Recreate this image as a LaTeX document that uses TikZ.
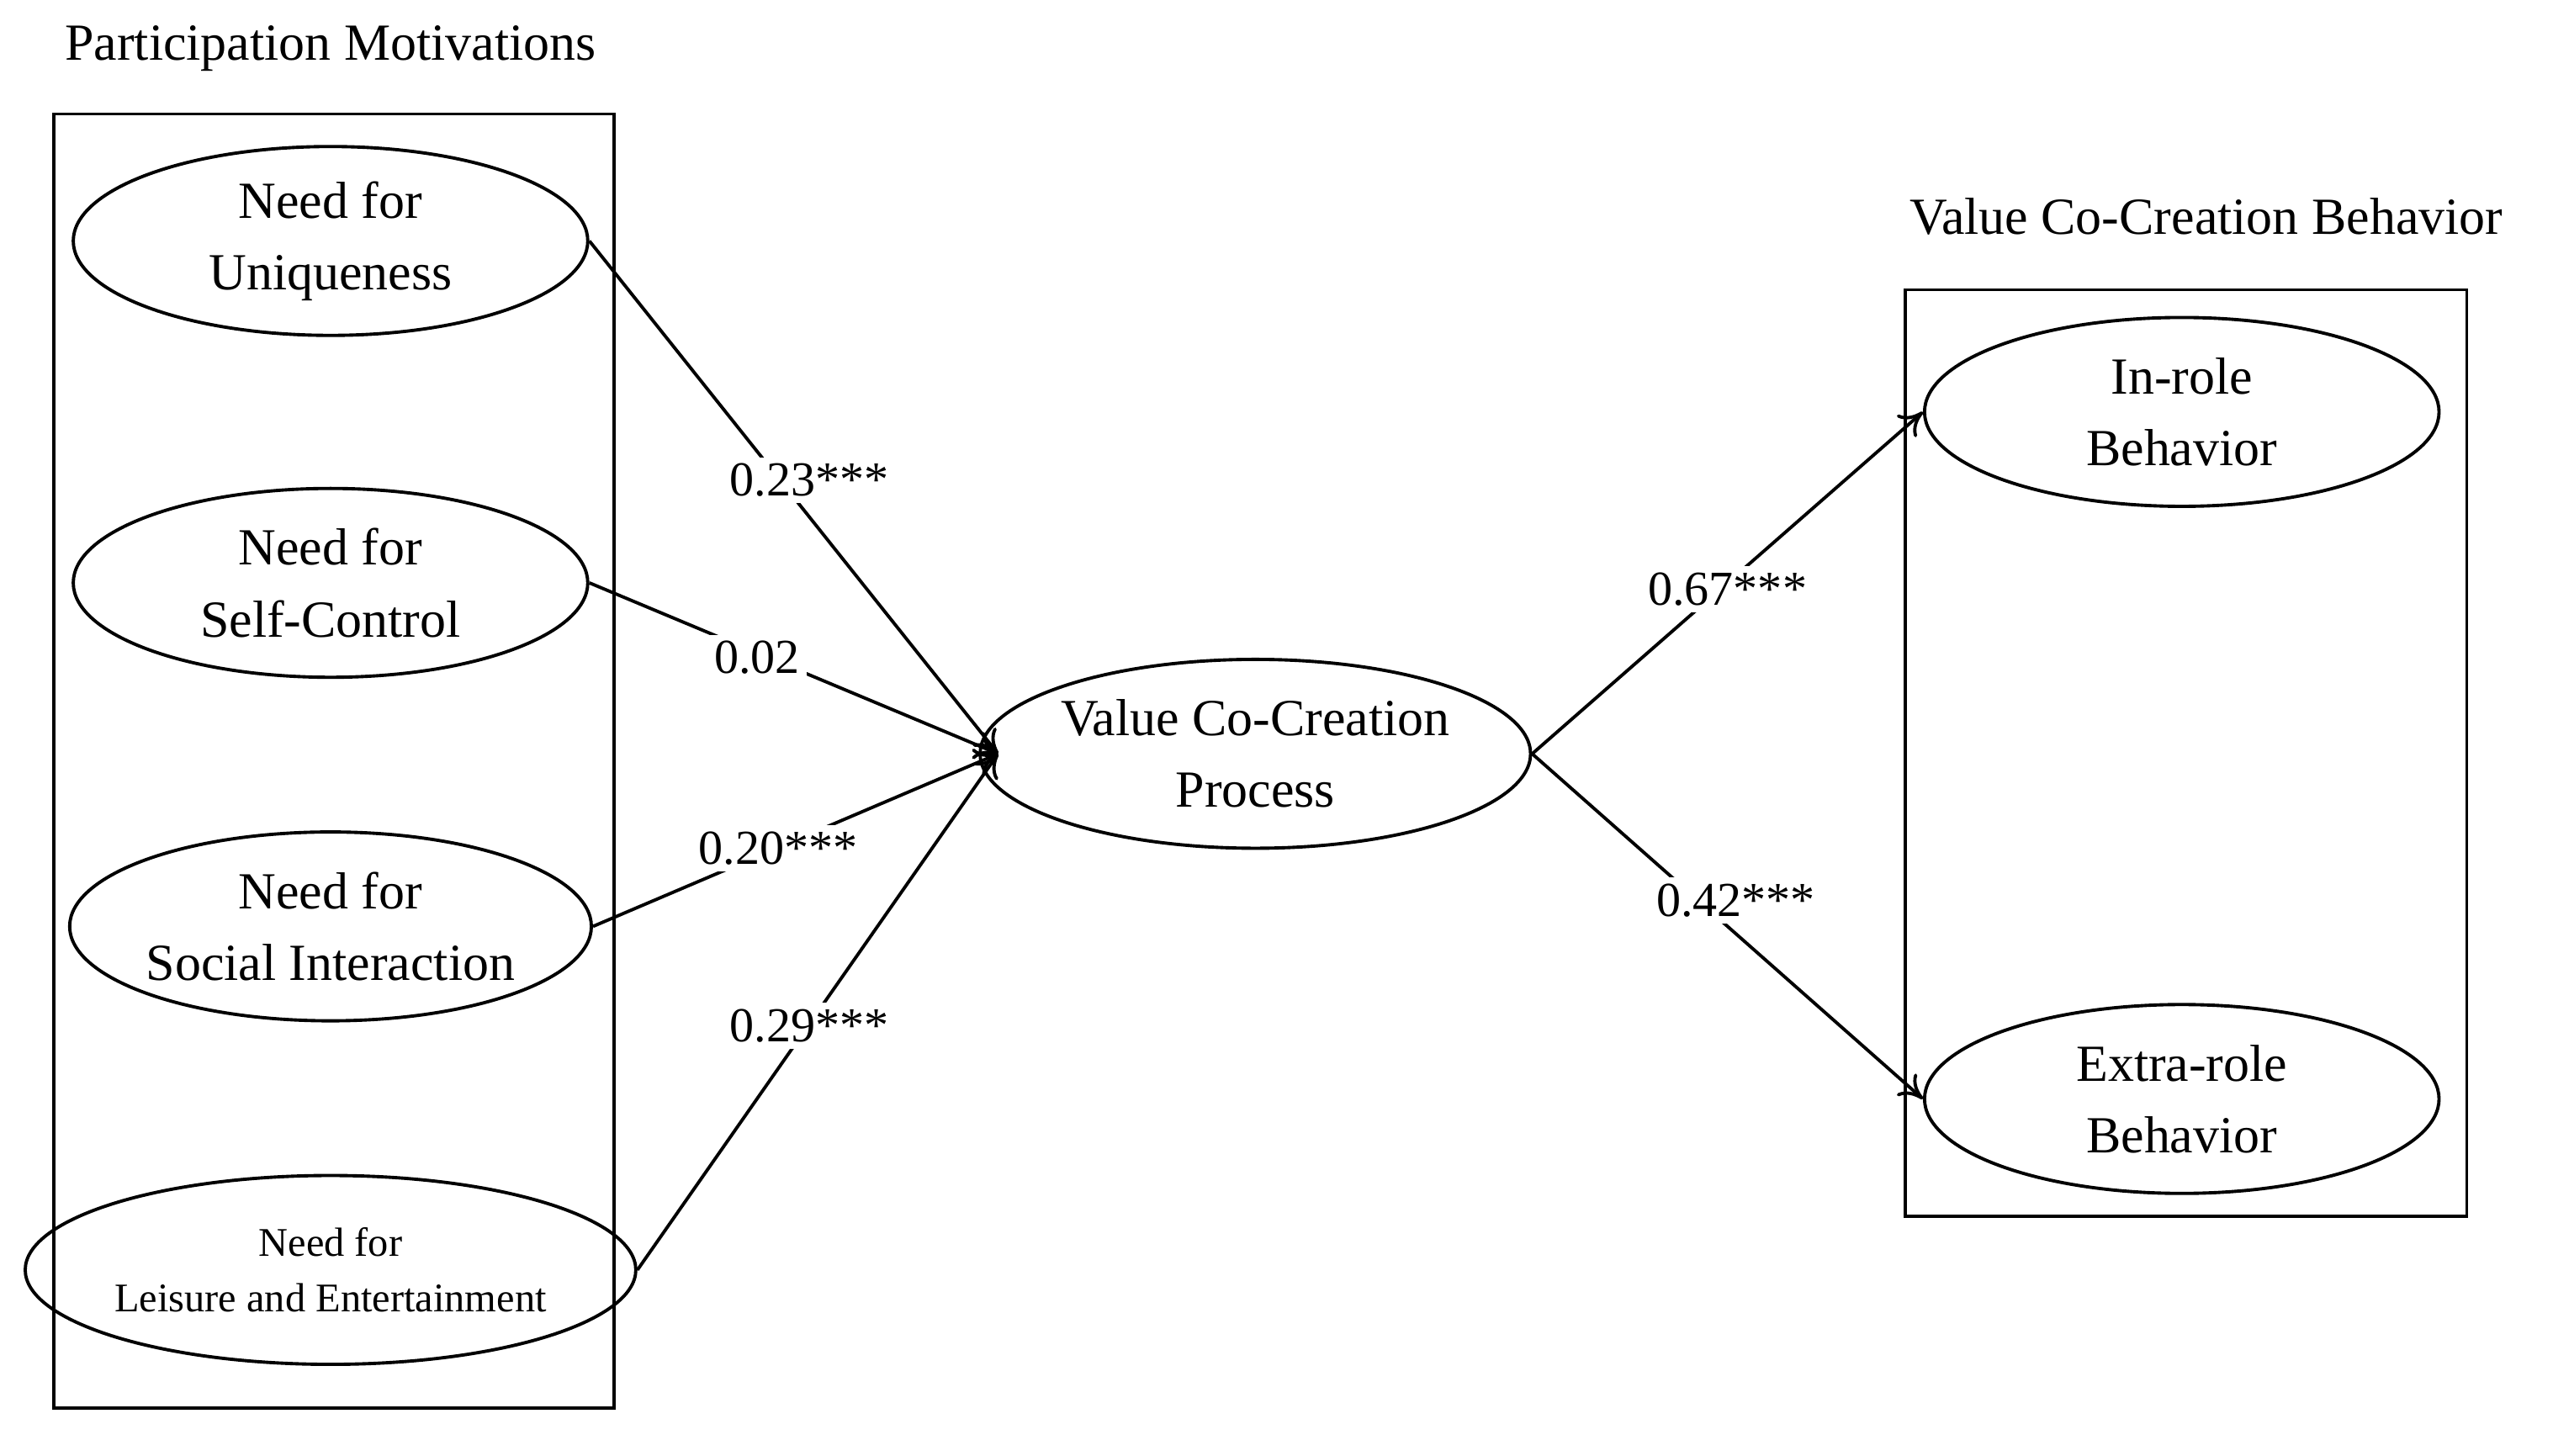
\documentclass[tikz,border=0pt]{standalone}
\usepackage{fontspec}
\setmainfont{Liberation Serif}
\usetikzlibrary{shapes.geometric,arrows.meta}
\begin{document}
\begin{tikzpicture}[x=0.5pt,y=-0.5pt,line width=1pt,
  ell/.style={ellipse,draw,minimum width=158pt,minimum height=58pt,inner sep=0pt,align=center,font=\fontsize{16}{22}\selectfont},
  lab/.style={fill=white,inner sep=2pt,font=\fontsize{15}{18}\selectfont},
  ttl/.style={font=\fontsize{16}{20}\selectfont},
  arr/.style={-{To[length=7pt,width=9pt]}}]
\useasboundingbox (0,0) rectangle (1568,894);
\node[ttl] (t1) at (203,30) {Participation Motivations};
\node[ttl] (t2) at (1355,133) {Value Co-Creation Behavior};
\node[draw,minimum width=172pt,minimum height=397.5pt,inner sep=0] (b1) at (205,467.5) {};
\node[draw,minimum width=172.5pt,minimum height=284.5pt,inner sep=0] (b2) at (1342.5,462.5) {};
\node[ell] (u) at (203,148) {Need for\\Uniqueness};
\node[ell] (s) at (203,358) {Need for\\Self-Control};
\node[ell] (i) at (203,569) {Need for\\Social Interaction};
\node[ell,font=\fontsize{12.5}{17}\selectfont] (l) at (203,780) {Need for\\Leisure and Entertainment};
\node[ell] (v) at (771,463) {Value Co-Creation\\Process};
\node[ell] (r) at (1340,253) {In-role\\Behavior};
\node[ell] (e) at (1340,675) {Extra-role\\Behavior};
\coordinate (vw) at (613,463);
\draw[arr] (u.east) -- (vw);
\draw[arr] (s.east) -- (vw);
\draw[arr] (i.east) -- (vw);
\draw[arr] (l.east) -- (vw);
\draw[arr] (v.east) -- (r.west);
\draw[arr] (v.east) -- (e.west);
\node[lab] (a1) at (497,295) {0.23***};
\node[lab] (a2) at (465,404) {0.02};
\node[lab] (a3) at (478,521) {0.20***};
\node[lab] (a4) at (497,630) {0.29***};
\node[lab] (a5) at (1061,362) {0.67***};
\node[lab] (a6) at (1066,553) {0.42***};
\end{tikzpicture}
\end{document}
